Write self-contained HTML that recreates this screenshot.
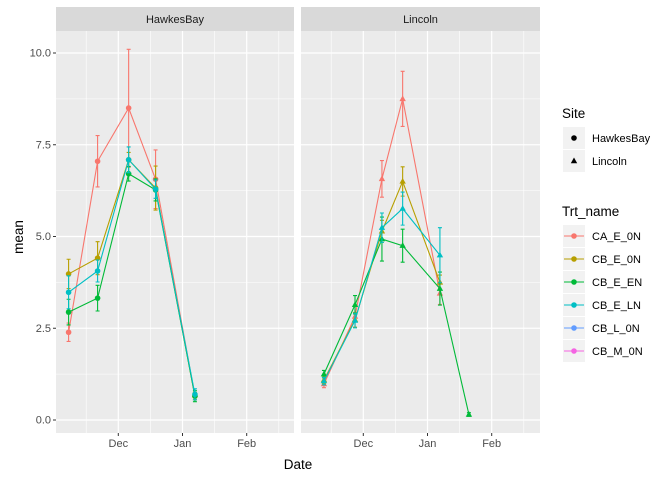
<!DOCTYPE html>
<html><head><meta charset="utf-8"><style>
body{margin:0;background:#fff;}
svg{display:block;font-family:"Liberation Sans",Arial,sans-serif;}
</style></head><body>
<svg id="chart" width="672" height="480"></svg>
<script>
const seriesNames=["CA_E_0N","CB_E_0N","CB_E_EN","CB_E_LN","CB_L_0N","CB_M_0N"];
const seriesColors=["#F8766D","#B79F00","#00BA38","#00BFC4","#619CFF","#F564E3"];
const yTicks=[0,2.5,5,7.5,10];
const yTickLabels=["0.0","2.5","5.0","7.5","10.0"];
const xTickDays=[0,31,62];
const xTickLabels=["Dec","Jan","Feb"];
// dates as days from Dec 1
const hbDays=[-24,-10,5,18,37];
const hbMean={
 "CA_E_0N":[2.39,7.05,8.5,6.56,0.65],
 "CB_E_0N":[3.98,4.41,7.09,6.32,0.65],
 "CB_E_EN":[2.94,3.32,6.71,6.27,0.65],
 "CB_E_LN":[3.48,4.06,7.09,6.29,0.7]
};
const hbErr={
 "CA_E_0N":[0.25,0.7,1.6,0.8,0.1],
 "CB_E_0N":[0.4,0.45,0.2,0.6,0.1],
 "CB_E_EN":[0.35,0.35,0.2,0.3,0.15],
 "CB_E_LN":[0.45,0.3,0.35,0.25,0.15]
};
const lnDays=[-19,-4,9,19,37,51];
const lnMean={
 "CA_E_0N":[0.98,2.82,6.57,8.75,3.45,null],
 "CB_E_0N":[1.09,2.73,5.14,6.5,3.75,null],
 "CB_E_EN":[1.25,3.14,4.93,4.75,3.58,0.15],
 "CB_E_LN":[1.06,2.71,5.24,5.76,4.49,null]
};
const lnErr={
 "CA_E_0N":[0.1,0.3,0.5,0.75,0.3,0],
 "CB_E_0N":[0.1,0.2,0.3,0.4,0.2,0],
 "CB_E_EN":[0.1,0.25,0.6,0.45,0.45,0.05],
 "CB_E_LN":[0.1,0.2,0.4,0.45,0.75,0]
};
const NS="http://www.w3.org/2000/svg";
const svg=document.getElementById("chart");
function mk(tag,attrs,parent){const e=document.createElementNS(NS,tag);for(const k in attrs)e.setAttribute(k,attrs[k]);(parent||svg).appendChild(e);return e;}
const pTop=31,pBot=433;
const yScale=v=>420-v*36.7;
const panels=[{name:"HawkesBay",x0:56,x1:294,dec:118.3,days:hbDays,mean:hbMean,err:hbErr,shape:"circle"},
 {name:"Lincoln",x0:301,x1:540,dec:363.3,days:lnDays,mean:lnMean,err:lnErr,shape:"tri"}];
const pxDay=64.2/31;
panels.forEach((p,pi)=>{
 const xs=d=>p.dec+d*pxDay;
 const g=mk("g",{});
 
 
 mk("rect",{x:p.x0,y:pTop,width:p.x1-p.x0,height:pBot-pTop,fill:"#EBEBEB"},g);
 for(let i=0;i<yTicks.length-1;i++){const y=yScale((yTicks[i]+yTicks[i+1])/2);mk("line",{x1:p.x0,x2:p.x1,y1:y,y2:y,stroke:"#fff","stroke-width":0.6},g);}
 [-31,0,31,62,93].forEach(d=>{const x=xs(d-15.5);if(x>p.x0&&x<p.x1)mk("line",{x1:x,x2:x,y1:pTop,y2:pBot,stroke:"#fff","stroke-width":0.6},g);});
 yTicks.forEach((t,i)=>{const y=yScale(t);mk("line",{x1:p.x0,x2:p.x1,y1:y,y2:y,stroke:"#fff","stroke-width":1.2},g);
  if(pi==0){mk("line",{x1:p.x0-3,x2:p.x0,y1:y,y2:y,stroke:"#333"});const tx=mk("text",{x:p.x0-5,y:y+3.5,"text-anchor":"end","font-size":"11",fill:"#4D4D4D"});tx.textContent=yTickLabels[i];}});
 xTickDays.forEach((d,i)=>{const x=xs(d);mk("line",{x1:x,x2:x,y1:pTop,y2:pBot,stroke:"#fff","stroke-width":1.2},g);
  mk("line",{x1:x,x2:x,y1:pBot,y2:pBot+3,stroke:"#333"});const tx=mk("text",{x:x,y:pBot+14,"text-anchor":"middle","font-size":"11",fill:"#4D4D4D"});tx.textContent=xTickLabels[i];});
 mk("rect",{x:p.x0,y:7,width:p.x1-p.x0,height:24,fill:"#D9D9D9"},g);
 const st=mk("text",{x:(p.x0+p.x1)/2,y:23,"text-anchor":"middle","font-size":"11",fill:"#1A1A1A"});st.textContent=p.name;
 
 Object.keys(p.mean).forEach(s=>{
  const col=seriesColors[seriesNames.indexOf(s)];
  const pts=[];
  p.mean[s].forEach((v,i)=>{if(v!==null)pts.push([xs(p.days[i]),yScale(v),p.err[s][i],v]);});
  const ln=mk("polyline",{points:pts.map(q=>q[0]+","+q[1]).join(" "),fill:"none",stroke:col,"stroke-width":1.1});
  
  pts.forEach(q=>{
   const e=q[2];
   if(e>0){const eb=mk("path",{d:`M${q[0]-2},${yScale(q[3]+e)}H${q[0]+2}M${q[0]},${yScale(q[3]+e)}V${yScale(q[3]-e)}M${q[0]-2},${yScale(q[3]-e)}H${q[0]+2}`,stroke:col,"stroke-width":1.1,fill:"none"});
    }
   let m;
   if(p.shape=="circle")m=mk("circle",{cx:q[0],cy:q[1],r:2.8,fill:col});
   else m=mk("path",{d:`M${q[0]},${q[1]-3.5}L${q[0]+3.2},${q[1]+2.2}L${q[0]-3.2},${q[1]+2.2}Z`,fill:col});
   
  });
 });
});
let t=mk("text",{x:298,y:469,"text-anchor":"middle","font-size":"13.5",fill:"#000"});t.textContent="Date";

t=mk("text",{x:0,y:0,"text-anchor":"middle","font-size":"13.5",fill:"#000",transform:"translate(23,237) rotate(-90)"});t.textContent="mean";

t=mk("text",{x:562,y:118,"font-size":"13.5"});t.textContent="Site";

["HawkesBay","Lincoln"].forEach((n,i)=>{const cy=138+i*23;const g=mk("g",{});
 
 mk("rect",{x:563,y:cy-11,width:22,height:22,fill:"#F2F2F2"},g);
 if(i==0)mk("circle",{cx:574,cy:cy,r:2.8,fill:"#000"},g);else mk("path",{d:`M574,${cy-3.5}L577.2,${cy+2.2}L570.8,${cy+2.2}Z`,fill:"#000"},g);
 const tx=mk("text",{x:592,y:cy+4,"font-size":"11"},g);tx.textContent=n;});
t=mk("text",{x:562,y:216,"font-size":"13.5"});t.textContent="Trt_name";

seriesNames.forEach((n,i)=>{const cy=236+i*23;const g=mk("g",{});
 
 mk("rect",{x:563,y:cy-11,width:22,height:22,fill:"#F2F2F2"},g);
 mk("line",{x1:564,x2:584,y1:cy,y2:cy,stroke:seriesColors[i],"stroke-width":1.1},g);
 mk("circle",{cx:574,cy:cy,r:2.8,fill:seriesColors[i]},g);
 const tx=mk("text",{x:592,y:cy+4,"font-size":"11"},g);tx.textContent=n;});
</script>
</body></html>
